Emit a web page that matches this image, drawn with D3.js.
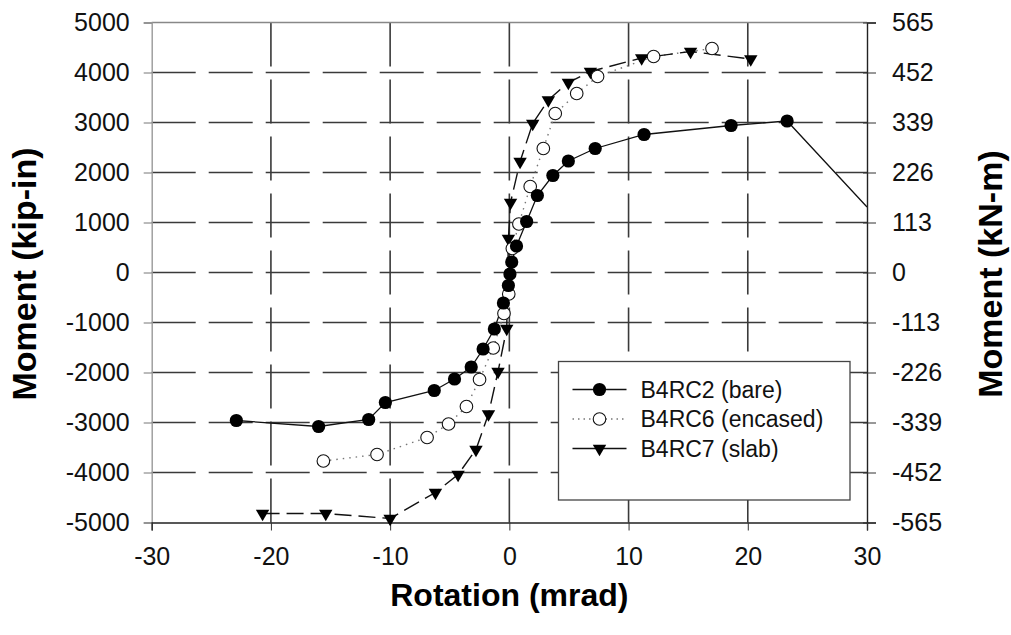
<!DOCTYPE html>
<html>
<head>
<meta charset="utf-8">
<script src="https://cdn.jsdelivr.net/npm/d3@7"></script>
<style>
  body { margin: 0; background: #fff; }
  svg { font-family: "Liberation Sans", Arial, sans-serif; }
</style>
</head>
<body>
<svg width="1011" height="635"></svg>
<script>
// rotation (mrad) and moment (kip-in)
var bareRot = [-22.9, -16.0, -11.8, -10.4, -6.3, -4.6, -3.2, -2.2, -1.26, -0.5, -0.08, 0.05, 0.2, 0.6, 1.45, 2.35, 3.65, 4.95, 7.2, 11.3, 18.6, 23.3, 30];
var bareMom = [-2960, -3080, -2940, -2600, -2360, -2130, -1890, -1530, -1130, -610, -260, -30, 210, 530, 1020, 1540, 1940, 2230, 2480, 2760, 2940, 3030, 1310];

var encRot = [-15.6, -11.1, -6.9, -5.1, -3.6, -2.5, -1.35, -0.45, -0.05, 0.25, 0.8, 1.75, 2.85, 3.85, 5.65, 7.4, 12.1, 17.0];
var encMom = [-3770, -3640, -3300, -3030, -2680, -2140, -1510, -820, -430, 480, 970, 1720, 2480, 3180, 3580, 3920, 4320, 4480];

var slabRot = [-20.7, -15.4, -10.0, -6.2, -4.3, -2.8, -1.75, -0.95, -0.22, -0.08, 0.1, 0.9, 1.96, 3.27, 4.95, 6.8, 11.1, 15.2, 20.25];
var slabMom = [-4820, -4820, -4920, -4400, -4040, -3540, -2830, -1980, -1120, 680, 1400, 2220, 2980, 3450, 3800, 4020, 4290, 4420, 4270];

var xTicks = [-30, -20, -10, 0, 10, 20, 30];
var yTicks = [-5000, -4000, -3000, -2000, -1000, 0, 1000, 2000, 3000, 4000, 5000];
var y2Ticks = [-565, -452, -339, -226, -113, 0, 113, 226, 339, 452, 565];

var seriesNames = ['B4RC2 (bare)', 'B4RC6 (encased)', 'B4RC7 (slab)'];

var plotLeft = 151.7, plotRight = 867, plotTop = 22.5, plotBottom = 522.5;

var xScale = d3.scaleLinear().domain([-30, 30]).range([plotLeft, plotRight]);
var yScale = d3.scaleLinear().domain([-5000, 5000]).range([plotBottom, plotTop]);
var y2Scale = d3.scaleLinear().domain([-565, 565]).range([plotBottom, plotTop]);

var plain = d => String(d);

var svg = d3.select('svg');

svg.append('defs').append('clipPath').attr('id', 'plotClip')
  .append('rect')
    .attr('x', plotLeft).attr('y', plotTop)
    .attr('width', plotRight - plotLeft).attr('height', plotBottom - plotTop);

// dashed grid
var grid = svg.append('g')
    .attr('stroke', '#3a3a3a')
    .attr('stroke-width', 1.6)
    .attr('stroke-dasharray', '44,13');

grid.selectAll('line.h')
    .data(yTicks.filter(d => d > -5000 && d < 5000))
    .enter()
    .append('line')
      .attr('x1', plotLeft)
      .attr('x2', plotRight)
      .attr('y1', d => yScale(d))
      .attr('y2', d => yScale(d));

grid.selectAll('line.v')
    .data(xTicks.filter(d => d > -30 && d < 30))
    .enter()
    .append('line')
      .attr('x1', d => xScale(d))
      .attr('x2', d => xScale(d))
      .attr('y1', plotTop)
      .attr('y2', plotBottom);

// frame top
svg.append('line')
    .attr('x1', plotLeft).attr('x2', plotRight).attr('y1', plotTop).attr('y2', plotTop)
    .attr('stroke', '#888').attr('stroke-width', 1.3);

var tickFont = '25px';

var yAxis = d3.axisLeft(yScale).tickValues(yTicks).tickSize(8).tickPadding(14).tickFormat(plain);
var gy = svg.append('g').attr('transform', `translate(${plotLeft},0)`).call(yAxis);
gy.select('.domain').attr('stroke', '#999').attr('stroke-width', 1.4);
gy.selectAll('.tick line').attr('stroke', '#777');

var y2Axis = d3.axisRight(y2Scale).tickValues(y2Ticks).tickSize(9).tickPadding(16).tickFormat(plain);
var gy2 = svg.append('g').attr('transform', `translate(${plotRight},0)`).call(y2Axis);
gy2.select('.domain').attr('stroke', '#222').attr('stroke-width', 1.4);
gy2.selectAll('.tick line').attr('stroke', '#333').attr('x1', -4);

var xAxis = d3.axisBottom(xScale).tickValues(xTicks).tickSize(8).tickPadding(17).tickFormat(plain);
var gx = svg.append('g').attr('transform', `translate(0,${plotBottom})`).call(xAxis);
gx.select('.domain').attr('stroke', '#222').attr('stroke-width', 1.4);
gx.selectAll('.tick line').attr('stroke', '#333');

svg.selectAll('.tick text')
    .style('font-size', tickFont)
    .style('font-family', '"Liberation Sans", Arial, sans-serif')
    .attr('fill', '#111');

// series
var bare = bareRot.map((r, i) => ({ r: r, m: bareMom[i] }));
var enc = encRot.map((r, i) => ({ r: r, m: encMom[i] }));
var slab = slabRot.map((r, i) => ({ r: r, m: slabMom[i] }));

var line = d3.line().x(d => xScale(d.r)).y(d => yScale(d.m));
var plot = svg.append('g').attr('clip-path', 'url(#plotClip)');

plot.append('path').datum(enc)
    .attr('d', line)
    .attr('fill', 'none')
    .attr('stroke', '#777')
    .attr('stroke-width', 1.4)
    .attr('stroke-dasharray', '1.5,5');

plot.append('path').datum(slab)
    .attr('d', line)
    .attr('fill', 'none')
    .attr('stroke', '#111')
    .attr('stroke-width', 1.4)
    .attr('stroke-dasharray', '17,7');

plot.append('path').datum(bare)
    .attr('d', line)
    .attr('fill', 'none')
    .attr('stroke', '#111')
    .attr('stroke-width', 1.3);

var triangle = d3.symbol().type(d3.symbolTriangle).size(78);

svg.append('g').selectAll('path')
    .data(slab)
    .enter()
    .append('path')
      .attr('d', triangle)
      .attr('transform', d => `translate(${xScale(d.r)},${yScale(d.m)}) rotate(180)`)
      .attr('fill', '#000');

svg.append('g').selectAll('circle')
    .data(enc)
    .enter()
    .append('circle')
      .attr('cx', d => xScale(d.r))
      .attr('cy', d => yScale(d.m))
      .attr('r', 6.3)
      .attr('fill', '#fff')
      .attr('stroke', '#111')
      .attr('stroke-width', 1.1);

svg.append('g').selectAll('circle')
    .data(bare.filter(d => d.r < 30))
    .enter()
    .append('circle')
      .attr('cx', d => xScale(d.r))
      .attr('cy', d => yScale(d.m))
      .attr('r', 6.6)
      .attr('fill', '#000');

// legend
var legend = svg.append('g').attr('transform', 'translate(558.5,361.5)');
legend.append('rect')
    .attr('width', 291.5)
    .attr('height', 138.5)
    .attr('fill', '#fff')
    .attr('stroke', '#444')
    .attr('stroke-width', 1.3);

var rowY = [28, 57.5, 87];
var legendStyles = [
  { dash: null, stroke: '#111' },
  { dash: '1.5,4', stroke: '#777' },
  { dash: null, stroke: '#111' }
];
legendStyles.forEach((s, i) => {
  var l = legend.append('line')
      .attr('x1', 14).attr('x2', 68)
      .attr('y1', rowY[i]).attr('y2', rowY[i])
      .attr('stroke', s.stroke).attr('stroke-width', 1.3);
  if (s.dash) l.attr('stroke-dasharray', s.dash);
});
legend.append('circle').attr('cx', 41).attr('cy', rowY[0]).attr('r', 6.6).attr('fill', '#000');
legend.append('circle').attr('cx', 41).attr('cy', rowY[1]).attr('r', 6.3)
    .attr('fill', '#fff').attr('stroke', '#111').attr('stroke-width', 1.1);
legend.append('path').attr('d', triangle)
    .attr('transform', `translate(41,${rowY[2]}) rotate(180)`)
    .attr('fill', '#000');

legend.selectAll('text.lbl')
    .data(seriesNames)
    .enter()
    .append('text')
      .attr('x', 82)
      .attr('y', (d, i) => rowY[i])
      .attr('dy', '0.36em')
      .style('font-size', '23px')
      .attr('fill', '#111')
      .text(d => d);

// axis titles
svg.append('text')
    .attr('x', (plotLeft + plotRight) / 2)
    .attr('y', 606)
    .style('text-anchor', 'middle')
    .style('font-size', '32px')
    .style('font-weight', 'bold')
    .attr('fill', '#000')
    .text('Rotation (mrad)');

svg.append('text')
    .attr('transform', 'rotate(-90)')
    .attr('x', -274)
    .attr('y', 36)
    .style('text-anchor', 'middle')
    .style('font-size', '34px')
    .style('font-weight', 'bold')
    .attr('fill', '#000')
    .text('Moment (kip-in)');

svg.append('text')
    .attr('transform', 'rotate(-90)')
    .attr('x', -274)
    .attr('y', 1002)
    .style('text-anchor', 'middle')
    .style('font-size', '34px')
    .style('font-weight', 'bold')
    .attr('fill', '#000')
    .text('Moment (kN-m)');
</script>
</body>
</html>
